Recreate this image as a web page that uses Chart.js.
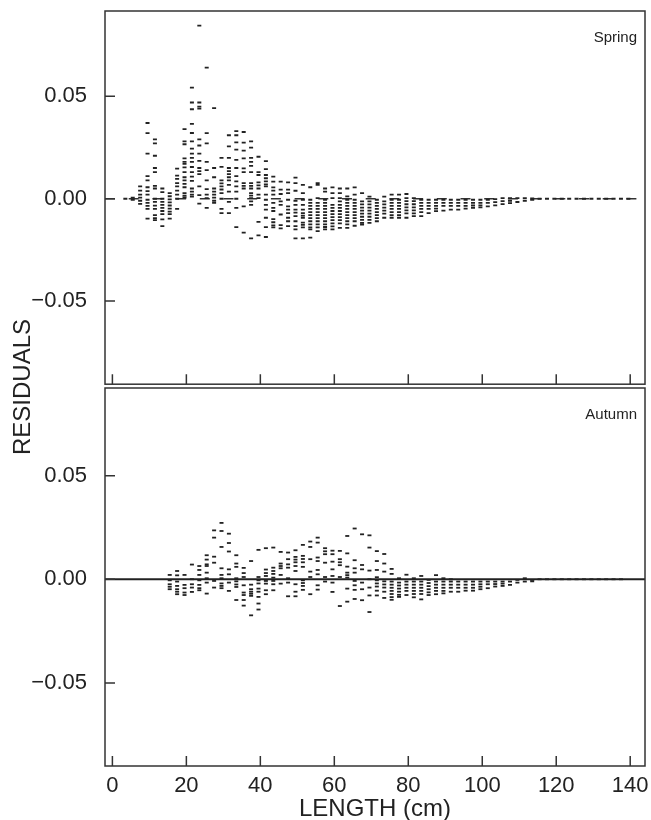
<!DOCTYPE html>
<html>
<head>
<meta charset="utf-8">
<script src="https://cdn.jsdelivr.net/npm/chart.js@4.4.1/dist/chart.umd.min.js"></script>
<style>
  body { margin: 0; background: #fff; }
  #wrap { position: relative; width: 651px; height: 820px; overflow: hidden; font-family: 'Liberation Sans', Arial, sans-serif; color: #222; }
  canvas { position: absolute; left: 0; }
  #top-chart { top: 0; }
  #bottom-chart { top: 380px; }
  .lbl { position: absolute; white-space: nowrap; }
  #ylabel { left: -128px; top: 373px; width: 300px; height: 28px; line-height: 28px; text-align: center; font-size: 24px; transform: rotate(-90deg); }
  #xlabel { left: 105px; top: 796px; width: 540px; line-height: 24px; text-align: center; font-size: 24px; }
  .season { right: 14px; font-size: 15px; line-height: 15px; }
</style>
</head>
<body>
<div id="wrap">
  <canvas id="top-chart" width="651" height="390"></canvas>
  <canvas id="bottom-chart" width="651" height="440"></canvas>
  <div class="lbl" id="ylabel">RESIDUALS</div>
  <div class="lbl" id="xlabel">LENGTH (cm)</div>
  <div class="lbl season" style="top: 29px">Spring</div>
  <div class="lbl season" style="top: 406px">Autumn</div>
</div>
<script>
const xTicks = [0, 20, 40, 60, 80, 100, 120, 140];
const yTicks = [-0.05, 0, 0.05];

// spring: length class (cm) and the residuals plotted in that column
const springLength = [
  3.5, 5.5, 7.5, 9.5, 11.5, 13.5, 15.5, 17.5, 19.5, 21.5, 23.5, 25.5, 27.5, 29.5, 31.5, 33.5, 35.5, 37.5, 39.5, 41.5,
  43.5, 45.5, 47.5, 49.5, 51.5, 53.5, 55.5, 57.5, 59.5, 61.5, 63.5, 65.5, 67.5, 69.5, 71.5, 73.5, 75.5, 77.5, 79.5, 81.5,
  83.5, 85.5, 87.5, 89.5, 91.5, 93.5, 95.5, 97.5, 99.5, 101.5, 103.5, 105.5, 107.5, 109.5, 111.5, 113.5,
  115.5, 117.5, 119.5, 121.5, 123.5, 125.5, 127.5, 129.5, 131.5, 133.5, 135.5, 137.5, 139.5
];
const springResidual = [
  [0],
  [0.0005, -0.0005],
  [0.006, 0.004, 0.002, 0.0005, -0.001, -0.0025],
  [0.037, 0.032, 0.022, 0.011, 0.009, 0.0056, 0.0037, 0.002, -0.0005, -0.002, -0.0035, -0.005, -0.0097],
  [0.029, 0.027, 0.021, 0.015, 0.013, 0.0063, 0.005, 0, -0.0015, -0.0034, -0.005, -0.008, -0.0095, -0.0105],
  [0.005, 0.0032, 0, -0.0015, -0.003, -0.0045, -0.006, -0.0075, -0.0101, -0.0134],
  [0.0027, 0.0012, -0.0003, -0.0018, -0.0033, -0.0048, -0.0063, -0.0075, -0.0097],
  [0.0147, 0.0113, 0.0097, 0.0076, 0.006, 0.004, 0.002, 0, -0.005],
  [0.034, 0.028, 0.0266, 0.0197, 0.018, 0.017, 0.0153, 0.013, 0.0105, 0.009, 0.0073, 0.0056, 0.0027, 0.0015, 0.0006],
  [0.0543, 0.047, 0.0437, 0.0366, 0.0321, 0.028, 0.0245, 0.022, 0.02, 0.018, 0.0155, 0.013, 0.0108, 0.0087, 0.005, 0.0035, 0.002, 0.001],
  [0.0846, 0.047, 0.045, 0.044, 0.029, 0.026, 0.022, 0.0185, 0.015, 0.0135, 0.012, 0.006, 0.0018, -0.0024],
  [0.064, 0.032, 0.027, 0.018, 0.014, 0.009, 0.0047, 0.002, 0.0003, -0.0045],
  [0.0443, 0.015, 0.0105, 0.005, 0.0035, 0.002, 0.0005, -0.001, -0.002],
  [0.02, 0.0156, 0.009, 0.0075, 0.006, 0.0045, 0.0027, 0, -0.005, -0.007],
  [0.031, 0.0256, 0.02, 0.015, 0.0135, 0.012, 0.0105, 0.009, 0.0068, 0.0035, -0.0015, -0.007],
  [0.033, 0.031, 0.0275, 0.024, 0.019, 0.015, 0.011, 0.0085, 0.006, 0.0035, 0, -0.0045, -0.0139],
  [0.0326, 0.0274, 0.0235, 0.0197, 0.0148, 0.013, 0.0076, 0.0063, 0.005, -0.0037, -0.0166],
  [0.028, 0.025, 0.02, 0.018, 0.016, 0.013, 0.0076, 0.0063, 0.005, 0.0027, 0.0015, 0.0003, -0.0013, -0.003, -0.0194],
  [0.0205, 0.013, 0.0116, 0.008, 0.0065, 0.005, 0.002, 0.0003, -0.0113, -0.0179],
  [0.0184, 0.0145, 0.0116, 0.01, 0.0085, 0.007, 0.006, 0.002, -0.0005, -0.003, -0.0053, -0.0093, -0.0139, -0.0187],
  [0.0108, 0.0084, 0.0055, 0.004, 0.002, -0.002, -0.0045, -0.006, -0.01, -0.0115, -0.013, -0.014],
  [0.0084, 0.0044, 0.0023, -0.0013, -0.003, -0.0077, -0.0129, -0.0145],
  [0.008, 0.0044, 0.0027, -0.0005, -0.0037, -0.0053, -0.007, -0.0093, -0.011, -0.0134],
  [0.0103, 0.0076, 0.0039, -0.001, -0.003, -0.0053, -0.0068, -0.0085, -0.011, -0.0134, -0.015, -0.0194],
  [0.0068, 0.0027, -0.0005, -0.003, -0.0053, -0.007, -0.0083, -0.0093, -0.0117, -0.0128, -0.014, -0.0194],
  [0.0056, -0.0005, -0.002, -0.0035, -0.005, -0.0065, -0.008, -0.0095, -0.011, -0.0125, -0.014, -0.015, -0.019],
  [0.0076, 0.0068, 0.0003, -0.002, -0.0035, -0.005, -0.0065, -0.008, -0.0095, -0.011, -0.0125, -0.014, -0.0158],
  [0.005, 0.0035, -0.0005, -0.002, -0.0035, -0.005, -0.0065, -0.008, -0.0095, -0.011, -0.0125, -0.0138, -0.015],
  [0.0055, 0.0027, 0.0003, -0.003, -0.0045, -0.006, -0.0075, -0.009, -0.0105, -0.012, -0.0135, -0.015],
  [0.005, 0.0027, 0.0003, -0.0013, -0.003, -0.0045, -0.006, -0.0075, -0.009, -0.0105, -0.012, -0.0142],
  [0.005, 0.0011, -0.0005, -0.002, -0.0035, -0.005, -0.0065, -0.008, -0.0095, -0.011, -0.0125, -0.0142],
  [0.0055, 0.002, -0.0005, -0.002, -0.0035, -0.005, -0.0065, -0.008, -0.0095, -0.011, -0.0132],
  [0.0027, -0.0013, -0.0028, -0.0043, -0.0058, -0.0073, -0.0088, -0.0103, -0.0118, -0.0126],
  [0.001, -0.0013, -0.0028, -0.0043, -0.0058, -0.0073, -0.0088, -0.0103, -0.0118],
  [-0.0005, -0.002, -0.0035, -0.005, -0.0065, -0.008, -0.0095, -0.011],
  [0.001, -0.0013, -0.0028, -0.0043, -0.0058, -0.0073, -0.0093],
  [0.002, -0.0005, -0.002, -0.0035, -0.005, -0.0065, -0.008, -0.0093],
  [0.002, -0.0005, -0.002, -0.0035, -0.005, -0.0065, -0.008, -0.0093],
  [0.0023, 0.0003, -0.0012, -0.0027, -0.0042, -0.0057, -0.0072, -0.0093],
  [0.0003, -0.0012, -0.0027, -0.0042, -0.0057, -0.0072, -0.0085],
  [-0.0005, -0.002, -0.0035, -0.005, -0.0065, -0.0085],
  [-0.0005, -0.002, -0.0035, -0.005, -0.007],
  [-0.0005, -0.002, -0.0035, -0.0048, -0.0061],
  [-0.0005, -0.002, -0.0035, -0.0058],
  [-0.0005, -0.002, -0.0035, -0.0053],
  [-0.0005, -0.002, -0.0035, -0.0053],
  [-0.0005, -0.002, -0.0035, -0.0048],
  [-0.0005, -0.002, -0.0033, -0.0045],
  [-0.0005, -0.002, -0.0032, -0.0042],
  [-0.0005, -0.002, -0.0037],
  [-0.0002, -0.0017, -0.0032],
  [0.0003, -0.0012, -0.0026],
  [0.0003, -0.001, -0.0021],
  [0.0003, -0.0016],
  [0.0003, -0.001],
  [0.0001, -0.0005],
  [0], [0], [0], [0], [0], [0], [0], [0], [0], [0], [0], [0], [0]
];

// autumn
const autumnLength = [
  15.5, 17.5, 19.5, 21.5, 23.5, 25.5, 27.5, 29.5, 31.5, 33.5, 35.5, 37.5, 39.5, 41.5, 43.5, 45.5, 47.5, 49.5, 51.5,
  53.5, 55.5, 57.5, 59.5, 61.5, 63.5, 65.5, 67.5, 69.5, 71.5, 73.5, 75.5, 77.5, 79.5, 81.5, 83.5, 85.5, 87.5, 89.5,
  91.5, 93.5, 95.5, 97.5, 99.5, 101.5, 103.5, 105.5, 107.5, 109.5, 111.5, 113.5,
  115.5, 117.5, 119.5, 121.5, 123.5, 125.5, 127.5, 129.5, 131.5, 133.5, 135.5, 137.5
];
const autumnResidual = [
  [0.0021, -0.0005, -0.0024, -0.0036, -0.0048],
  [0.004, 0.0019, -0.0011, -0.0032, -0.0048, -0.006, -0.0072],
  [0.0021, -0.0027, -0.0043, -0.0064, -0.0076],
  [0.0071, 0, -0.0024, -0.004, -0.0061],
  [0.0064, 0.0045, 0.0021, -0.0005, -0.0027, -0.0043, -0.0053],
  [0.0116, 0.0095, 0.0072, 0.0064, 0.0032, 0.0005, -0.0016, -0.0069],
  [0.0236, 0.0201, 0.0109, 0.008, -0.0008, -0.004],
  [0.0272, 0.0233, 0.0156, 0.0053, 0.0021, 0.0005, -0.002, -0.0032, -0.0043],
  [0.022, 0.0175, 0.0134, 0.0048, 0.0024, -0.0016, -0.0056],
  [0.0116, 0.0076, 0.006, 0.0005, -0.001, -0.0025, -0.0037, -0.01],
  [0.0055, 0.003, 0.0011, -0.0029, -0.0064, -0.0076, -0.01, -0.0127],
  [0.0088, -0.0026, -0.0048, -0.006, -0.007, -0.008, -0.0174],
  [0.0142, 0.0011, -0.0005, -0.002, -0.0045, -0.006, -0.0085, -0.0117, -0.0146],
  [0.015, 0.0047, 0.003, 0.0016, -0.0008, -0.0021, -0.0053, -0.0072],
  [0.0153, 0.0056, 0.004, 0.0026, 0.0008, -0.0008, -0.0024, -0.0053],
  [0.0132, 0.0076, 0.0064, 0.0053, 0.0021, -0.0021],
  [0.0129, 0.0097, 0.0072, 0.0056, 0.0005, -0.0016, -0.0082],
  [0.014, 0.0108, 0.0095, 0.0082, 0.0064, 0.004, -0.0024, -0.006, -0.0082],
  [0.0166, 0.0113, 0.0098, 0.0082, 0.006, -0.0005, -0.0018, -0.0032, -0.0051],
  [0.0182, 0.0156, 0.0097, 0.0037, 0.0011, -0.0072],
  [0.0201, 0.0177, 0.0105, 0.0088, 0.0045, 0.0024, -0.0029, -0.005],
  [0.015, 0.0135, 0.0121, 0.008, 0.0011, -0.0011],
  [0.0138, 0.0121, 0.0085, 0.0048, 0.0016, -0.0016, -0.0061],
  [0.0137, 0.0097, 0.0082, 0.0068, 0.0011, -0.0129],
  [0.0209, 0.0125, 0.0061, 0.0032, 0.002, 0.0008, -0.0045, -0.0108],
  [0.0245, 0.0092, 0.0053, 0.0032, -0.0008, -0.0029, -0.0051, -0.0095],
  [0.0217, 0.0069, 0.0048, -0.0016, -0.0048, -0.0101],
  [0.0212, 0.0153, 0.0042, 0, -0.004, -0.0078, -0.0158],
  [0.0136, 0.0088, 0.0045, 0.001, -0.0005, -0.002, -0.0035, -0.0055, -0.0078],
  [0.0122, 0.0076, 0.0037, -0.001, -0.0025, -0.004, -0.006, -0.009],
  [0.005, 0.0026, -0.0011, -0.0026, -0.0041, -0.0056, -0.0071, -0.0086, -0.0099],
  [0.0005, -0.0016, -0.003, -0.0045, -0.006, -0.0075, -0.0085],
  [0.0022, -0.0011, -0.0026, -0.0041, -0.0056, -0.0076],
  [0.0005, -0.0011, -0.0026, -0.0041, -0.0056, -0.0071, -0.0087],
  [0.0016, -0.0011, -0.0026, -0.0041, -0.0056, -0.0071, -0.0097],
  [-0.0003, -0.0018, -0.0033, -0.0048, -0.0063, -0.0076],
  [0.002, -0.0011, -0.0026, -0.0041, -0.0056, -0.0072],
  [0.0005, -0.0011, -0.0026, -0.0041, -0.0056, -0.0068],
  [0, -0.0011, -0.0026, -0.0041, -0.006],
  [-0.0011, -0.0026, -0.0041, -0.006],
  [-0.0011, -0.0026, -0.0041, -0.0055],
  [-0.0011, -0.0026, -0.0041, -0.0055],
  [-0.0011, -0.0024, -0.0036, -0.0048],
  [-0.0011, -0.0024, -0.0043],
  [-0.0011, -0.0023, -0.0035],
  [-0.0011, -0.0021, -0.0032],
  [-0.0011, -0.0027],
  [-0.0003, -0.0016],
  [0.0005, -0.0011],
  [-0.0003, -0.001],
  [0], [0], [0], [0], [0], [0], [0], [0], [0], [0], [0], [0]
];

const FONT = "'Liberation Sans', Arial, sans-serif";
const INK = '#222';
const X_MIN = -2, X_MAX = 144;

function toPoints(lengths, residuals) {
  const pts = [];
  lengths.forEach((len, i) => {
    residuals[i].forEach(r => pts.push({ x: len, y: r }));
  });
  return pts;
}

function fmt(v) {
  const s = Math.abs(v).toFixed(2);
  return v < 0 ? '\u2212' + s : s;
}

// box round the panel plus the short inward tick marks
const frameTicks = {
  id: 'frameTicks',
  afterDraw(chart) {
    const { ctx, chartArea: a, scales } = chart;
    ctx.save();
    ctx.strokeStyle = '#333';
    ctx.lineWidth = 1.5;
    ctx.strokeRect(a.left, a.top, a.right - a.left, a.bottom - a.top);
    ctx.beginPath();
    yTicks.forEach(v => {
      const y = scales.y.getPixelForValue(v);
      ctx.moveTo(a.left, y);
      ctx.lineTo(a.left + 10, y);
    });
    xTicks.forEach(v => {
      const x = scales.x.getPixelForValue(v);
      ctx.moveTo(x, a.bottom);
      ctx.lineTo(x, a.bottom - 10);
    });
    ctx.stroke();
    ctx.restore();
  }
};

function makePanel(id, points, opts) {
  const ctx = document.getElementById(id).getContext('2d');
  return new Chart(ctx, {
    type: 'scatter',
    data: {
      datasets: [
        {
          data: points,
          pointStyle: 'line',
          pointRadius: 2,
          pointBorderWidth: 1.8,
          borderColor: INK,
          backgroundColor: INK,
          order: 1,
        },
        {
          type: 'line',
          data: [{ x: X_MIN, y: 0 }, { x: X_MAX, y: 0 }],
          borderColor: opts.dashed ? '#333' : '#222',
          borderWidth: opts.dashed ? 1.5 : 2,
          borderDash: opts.dashed ? [10, 13.7] : [],
          pointRadius: 0,
          order: 2,
        },
      ],
    },
    options: {
      responsive: false,
      animation: false,
      devicePixelRatio: 1,
      layout: { padding: opts.padding },
      plugins: { legend: { display: false }, tooltip: { enabled: false } },
      scales: {
        x: {
          type: 'linear',
          min: X_MIN,
          max: X_MAX,
          display: opts.showX,
          afterFit: s => {
            s.height = opts.showX ? 54 : 0;
            s.paddingLeft = 0;
            s.paddingRight = 0;
          },
          afterBuildTicks: s => { s.ticks = xTicks.map(v => ({ value: v })); },
          grid: { display: false, drawTicks: false },
          border: { display: false },
          ticks: { padding: 7, color: INK, maxRotation: 0, autoSkip: false, font: { family: FONT, size: 22 } },
        },
        y: {
          min: opts.yMin,
          max: opts.yMax,
          afterFit: s => {
            s.width = 105;
            s.paddingTop = 0;
            s.paddingBottom = 0;
          },
          afterBuildTicks: s => { s.ticks = yTicks.map(v => ({ value: v })); },
          grid: { display: false, drawTicks: false },
          border: { display: false },
          ticks: { padding: 18, color: INK, font: { family: FONT, size: 22 }, callback: v => fmt(v) },
        },
      },
    },
    plugins: [frameTicks],
  });
}

makePanel('top-chart', toPoints(springLength, springResidual), {
  dashed: true, showX: false, yMin: -0.0906, yMax: 0.0917,
  padding: { top: 11, right: 6, bottom: 2, left: 0 },
});
makePanel('bottom-chart', toPoints(autumnLength, autumnResidual), {
  dashed: false, showX: true, yMin: -0.0901, yMax: 0.0923,
  padding: { top: 8, right: 6, bottom: 0, left: 0 },
});
</script>
</body>
</html>
